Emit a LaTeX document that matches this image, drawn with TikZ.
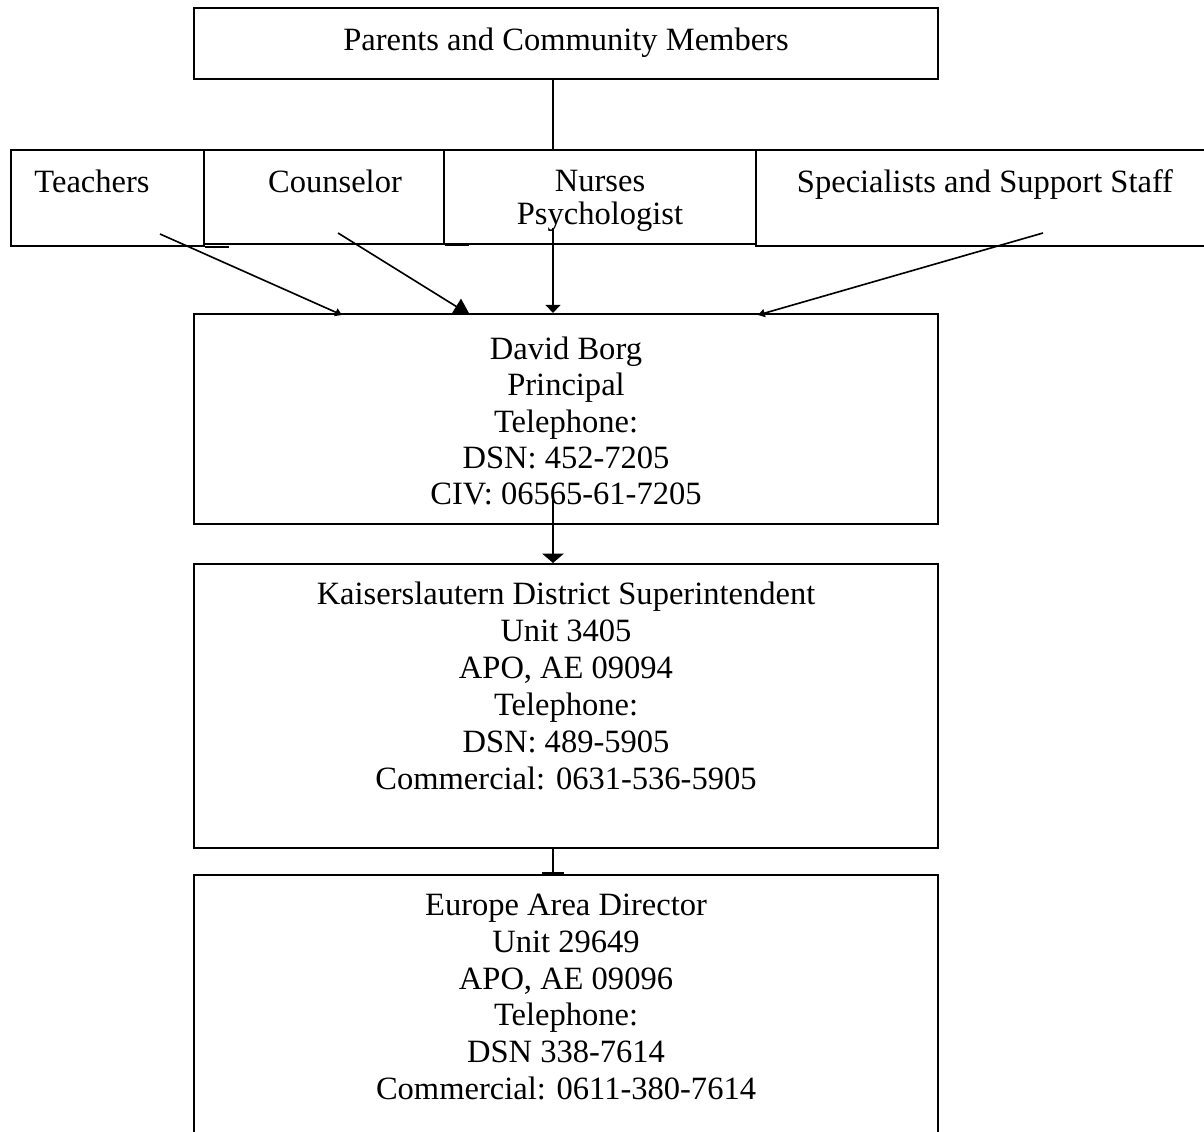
\documentclass[tikz,border=0pt]{standalone}
\usepackage{fontspec}
\setmainfont{Liberation Serif}
\usetikzlibrary{arrows.meta,fit}
\begin{document}
\begin{tikzpicture}[x=0.369pt,y=-0.369pt,
  box/.style={draw, line width=0.75pt, inner sep=0pt, rectangle},
  txt/.style={font=\fontsize{12}{12.2}\selectfont, align=center, inner sep=0pt},
  txtp/.style={font=\fontsize{12}{13.3}\selectfont, align=center, inner sep=0pt},
  txtw/.style={font=\fontsize{12}{13.6}\selectfont, align=center, inner sep=0pt},
  conn/.style={line width=0.6pt}]
\useasboundingbox (0,0) rectangle (1204,1132);
\clip (0,0) rectangle (1204,1132);
% boxes
\node[box, fit={(194,8) (938,79)}] (parents) {};
\node[box, fit={(11,150) (204,246)}] (teachers) {};
\node[box, fit={(204,150) (444,244)}] (counselor) {};
\node[box, fit={(444,150) (756,244)}] (nurses) {};
\node[box, fit={(756,150) (1215,246)}] (specialists) {};
\node[box, fit={(194,314) (938,524)}] (principal) {};
\node[box, fit={(194,564) (938,848)}] (district) {};
\node[box, fit={(194,875) (938,1160)}] (europe) {};
% small overlapping edge pieces
\draw[line width=1pt] (teachers.south east) -- ++(24,0);
\draw[line width=1pt] (counselor.south east) -- ++(24,0);
% texts
\node[txt, anchor=base] (tparents) at (566,51) {Parents and Community Members};
\node[txt, anchor=base] (tteachers) at (92,192) {Teachers};
\node[txt, anchor=base] (tcounselor) at (335,192) {Counselor};
\node[txt] (tnurses) at (600,201) {Nurses\\Psychologist};
\node[txt, anchor=base] (tspecialists) at (985,192) {Specialists and Support Staff};
\node[txtp] (tprincipal) at (566,421) {David Borg\\Principal\\Telephone:\\DSN: 452-7205\\CIV: 06565-61-7205};
\node[txtw] (tdistrict) at (566,686) {Kaiserslautern District Superintendent\\Unit 3405\\APO, AE 09094\\Telephone:\\DSN: 489-5905\\Commercial: 0631-536-5905};
\node[txtw] (teurope) at (566,997) {Europe Area Director\\Unit 29649\\APO, AE 09096\\Telephone:\\DSN 338-7614\\Commercial: 0611-380-7614};
% connector coordinates
\coordinate (axis) at (553,0);
\coordinate (tA) at (160,234);
\coordinate (tB) at (342,315);
\coordinate (cA) at (338,233);
\coordinate (cB) at (470,315);
\coordinate (sA) at (1043,233);
\coordinate (sB) at (758,315);
\coordinate (nA) at (553,228);
\coordinate (pA) at (553,500);
% connectors
\draw[conn] (parents.south -| axis) -- (nurses.north -| axis);
\draw[conn, -{Triangle[length=2.5pt,width=3pt]}] (tA) -- (tB);
\draw[conn, -{Triangle[length=6pt,width=6.6pt]}] (cA) -- (cB);
\draw[conn, -{Triangle[length=3pt,width=5.5pt]}] (nA) -- (principal.north -| axis);
\draw[conn, -{Triangle[length=2.5pt,width=3pt]}] (sA) -- (sB);
\draw[conn, -{Triangle[length=3.5pt,width=8pt]}] (pA) -- (district.north -| axis);
\draw[conn, -{Bar[width=8pt,line width=0.6pt]}] (district.south -| axis) -- (europe.north -| axis);
\end{tikzpicture}
\end{document}
